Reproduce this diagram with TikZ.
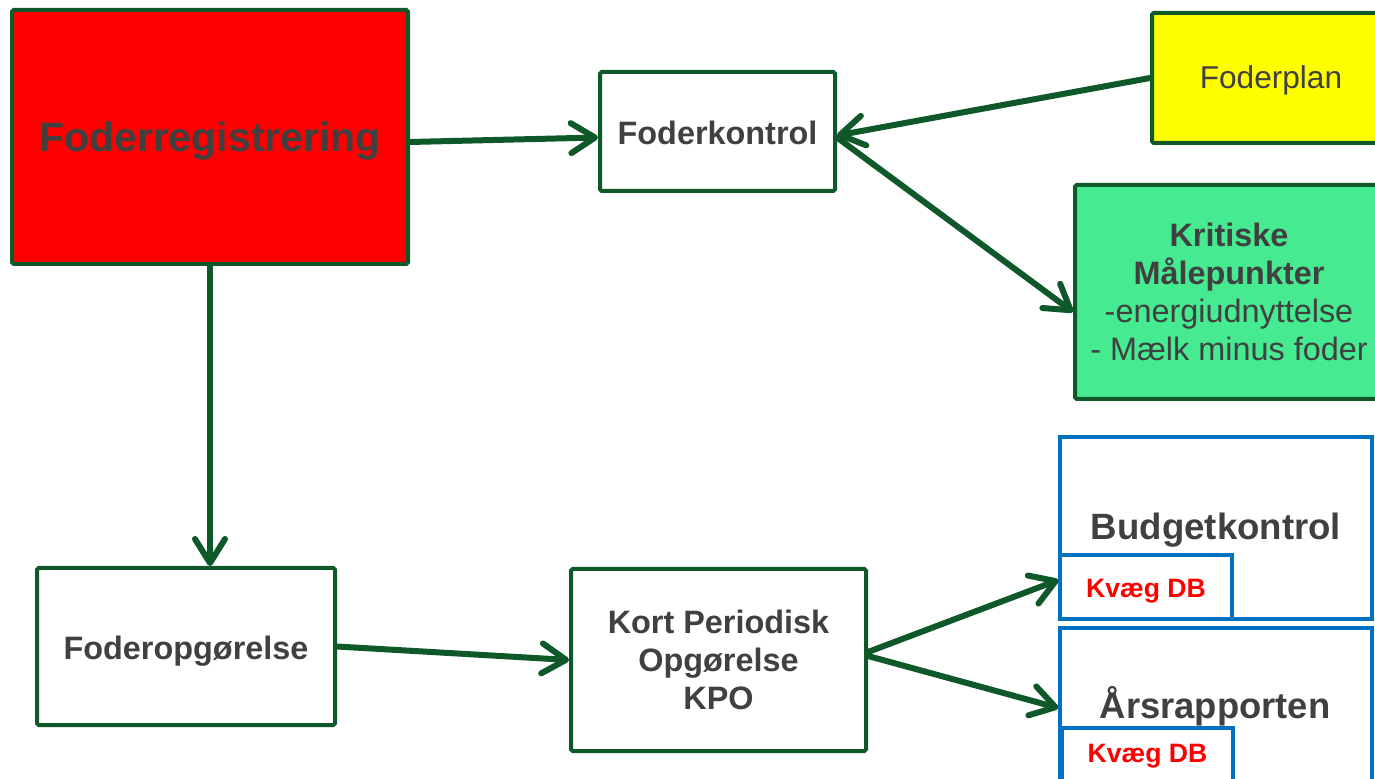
\documentclass[tikz,border=0pt]{standalone}
\usepackage{fontspec}
\setmainfont{Liberation Sans}
\usetikzlibrary{arrows.meta}
\definecolor{dgreen}{RGB}{14,88,42}
\definecolor{txtgray}{RGB}{64,64,64}
\definecolor{kgreen}{RGB}{70,234,145}
\definecolor{bblue}{RGB}{0,112,192}
\definecolor{yel}{RGB}{255,255,0}
\newcommand{\lowr}[2]{\raisebox{-#1}[\height][\depth]{#2}}
\tikzset{
  gbox/.style={draw=dgreen, line width=2pt, fill=white, text=txtgray, align=center, inner sep=0pt, rounded corners=0.8pt},
  bbox/.style={draw=bblue, line width=1.6pt, fill=white, text=txtgray, align=center, inner sep=0pt},
  conn/.style={draw=dgreen, line width=3pt, line cap=round, -{Straight Barb[length=12pt,width=15pt,round]}},
  fsB/.style={font={\fontsize{16.2}{19}\selectfont\bfseries}},
  kvtext/.style={text=red, font={\fontsize{13.3}{16}\selectfont\bfseries}},
}
\begin{document}
\begin{tikzpicture}[x=0.5pt,y=-0.5pt]
\useasboundingbox (0,0) rectangle (1375,779);
\clip (0,0) rectangle (1375,779);
\node[gbox, fill=red, minimum width=198pt, minimum height=127pt, font={\fontsize{20.5}{24}\selectfont\bfseries}] (reg) at (210,137) {\lowr{2pt}{Foderregistrering}};
\node[gbox, fsB, minimum width=117.5pt, minimum height=59.5pt] (kon) at (717.5,131.5) {\lowr{0.5pt}{Foderkontrol}};
\node[gbox, fill=yel, minimum width=119pt, minimum height=65pt, font={\fontsize{15.8}{19}\selectfont}] (plan) at (1271,78) {\lowr{1pt}{Foderplan}};
\node[gbox, fill=kgreen, minimum width=154pt, minimum height=107pt, font={\fontsize{16.2}{19}\selectfont}] (kri) at (1229,292) {\textbf{Kritiske}\\\textbf{Målepunkter}\\-energiudnyttelse\\- Mælk minus foder};
\node[bbox, minimum width=156pt, minimum height=91pt, font={\fontsize{18.3}{22}\selectfont\bfseries}] (bud) at (1216,528) {\lowr{1pt}{Budgetkontrol}};
\node[bbox, kvtext, minimum width=86pt, minimum height=32pt] (bkv) at (1146,587) {\lowr{2pt}{Kvæg DB}};
\node[bbox, minimum width=156pt, minimum height=91pt] (aar) at (1216,719) {};
\node[text=txtgray, inner sep=0pt, font={\fontsize{18.2}{22}\selectfont\bfseries}] (aartxt) at (1215,706) {Årsrapporten};
\node[bbox, kvtext, minimum width=85.5pt, minimum height=32pt] (akv) at (1147.5,760) {\lowr{-2pt}{Kvæg DB}};
\node[gbox, fsB, minimum width=149pt, minimum height=78.5pt] (opg) at (186,646.5) {\lowr{2.5pt}{Foderopgørelse}};
\node[gbox, fsB, minimum width=147.5pt, minimum height=91pt] (kpo) at (718.5,660) {Kort Periodisk\\Opgørelse\\KPO};
\draw[conn] ([yshift=-2.5pt]reg.east) -- ([yshift=-3pt]kon.west);
\draw[conn] (plan.west) -- ([yshift=-2pt]kon.east);
\draw[conn] ([yshift=-3pt]kon.east) -- ([yshift=-10pt]kri.west);
\draw[conn] (reg.south) -- (reg.south |- opg.north);
\draw[conn] (opg.east) -- (kpo.west);
\draw[conn] ([yshift=4pt]kpo.east) -- ([yshift=-26pt]bud.west);
\draw[conn] ([yshift=2pt]kpo.east) -- ([yshift=5.5pt]aar.west);
\end{tikzpicture}
\end{document}
